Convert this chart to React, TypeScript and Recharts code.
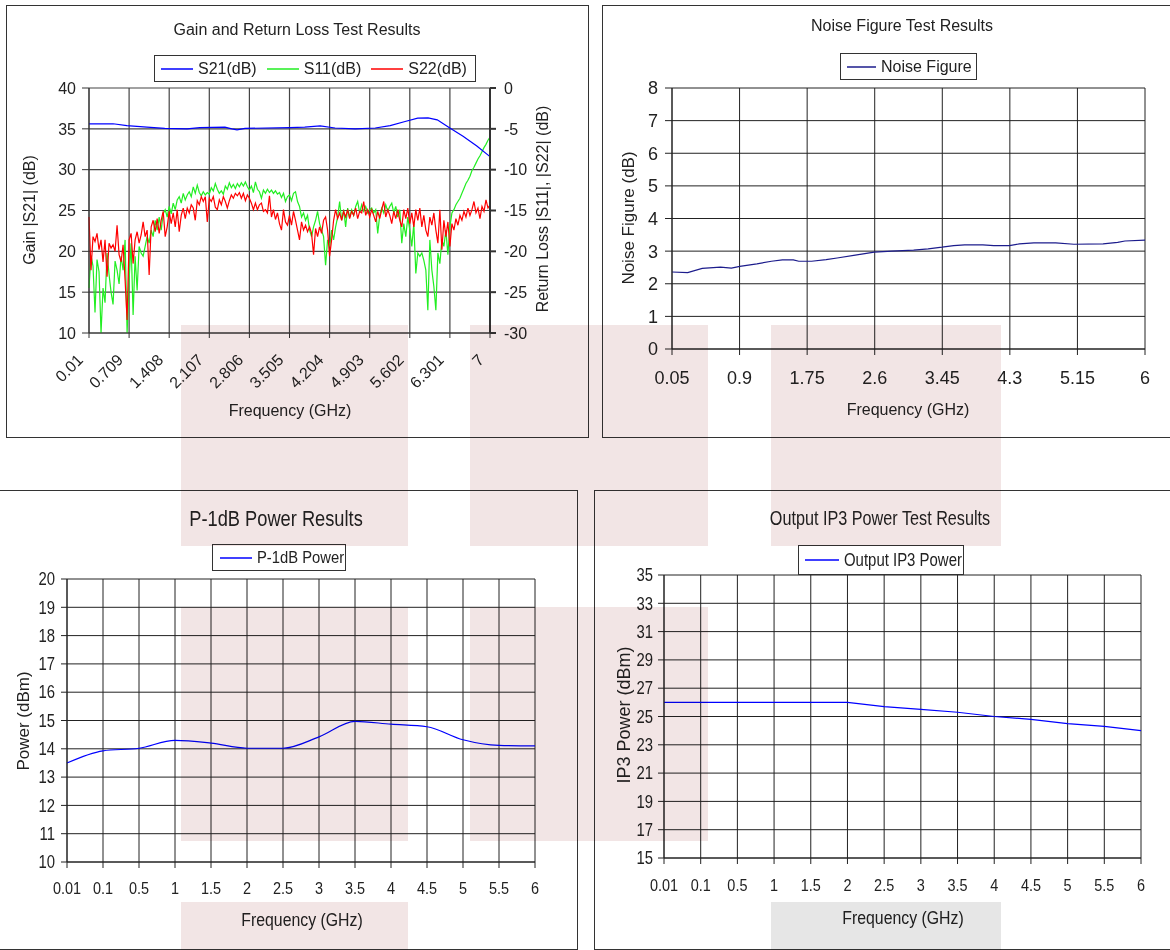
import React from "react";
import { LineChart, Line, XAxis, YAxis, CartesianGrid } from "recharts";

// ---- Gain / return loss sweep (0.01 .. 7 GHz, 201 points) ----
const SWEEP_START = 0.01;
const SWEEP_STEP = 0.03495;

const S11_DB = [
  -24.5, -20.5, -21.8, -27.5, -21.0, -22.5, -30.0, -24.5, -26.3, -20.2,
  -22.8, -25.0, -26.5, -21.2, -22.3, -24.0, -20.6, -22.3, -18.6, -30.0,
  -23.5, -19.0, -27.8, -20.6, -24.8, -19.4, -20.2, -20.6, -19.4, -18.2,
  -19.0, -17.4, -18.2, -16.2, -17.4, -15.8, -17.4, -15.4, -14.9, -15.8,
  -14.5, -15.4, -14.1, -14.9, -13.7, -13.3, -14.1, -12.9, -13.7, -13.1,
  -12.7, -13.3, -12.1, -12.9, -11.9, -12.8, -13.2, -12.7, -13.1, -12.8,
  -13.0, -12.2, -12.6, -11.7, -12.4, -12.9, -12.6, -13.0, -12.0, -12.4,
  -11.6, -12.2, -11.8, -12.3, -11.7, -12.1, -11.6, -12.0, -11.5, -12.1,
  -12.5, -12.0, -12.8, -11.5, -12.4, -12.7, -13.5, -12.5, -12.9, -12.4,
  -12.8, -12.5, -12.9, -12.6, -13.0, -12.8, -13.4, -12.9, -13.9, -13.3,
  -13.1, -13.8, -12.9, -12.7, -13.9, -14.5, -15.8, -15.3, -16.2, -15.6,
  -17.4, -18.2, -17.0, -16.2, -15.1, -16.6, -17.4, -18.2, -21.7, -18.6,
  -19.4, -17.4, -18.6, -17.0, -15.8, -13.9, -16.2, -14.9, -17.0, -14.7,
  -15.8, -14.9, -15.6, -14.5, -13.9, -15.3, -14.3, -15.1, -14.5, -15.3,
  -14.9, -14.7, -15.3, -14.9, -17.8, -15.6, -14.7, -15.3, -14.3, -15.1,
  -14.5, -14.1, -15.3, -14.5, -15.8, -14.9, -19.0, -16.6, -18.2, -15.8,
  -17.4, -19.4, -16.6, -22.7, -20.2, -20.6, -20.2, -21.1, -22.3, -27.2,
  -18.6, -22.3, -24.3, -27.2, -20.2, -21.5, -18.6, -19.4, -17.4, -20.4,
  -17.0, -15.3, -14.9, -14.3, -13.9, -13.5, -12.9, -12.3, -11.7, -11.3,
  -10.8, -10.1, -9.7, -9.2, -8.7, -8.3, -7.8, -7.3, -6.9, -6.4, -6.0,
];

const S22_DB = [
  -15.8, -22.3, -18.2, -18.8, -17.8, -19.8, -18.6, -21.3, -18.6, -23.1,
  -19.0, -19.6, -19.2, -20.0, -16.8, -20.4, -21.3, -19.2, -23.5, -28.4,
  -18.6, -17.8, -21.5, -18.6, -17.6, -19.0, -18.0, -16.4, -18.2, -17.4,
  -22.9, -17.0, -16.2, -17.6, -16.0, -17.8, -16.2, -15.1, -18.2, -17.0,
  -15.1, -16.6, -15.3, -17.0, -14.9, -17.6, -15.6, -14.7, -16.0, -14.7,
  -15.3, -14.3, -14.7, -16.2, -13.8, -14.3, -13.3, -13.9, -13.3, -16.4,
  -13.5, -13.9, -13.3, -14.6, -14.9, -13.7, -14.3, -13.3, -13.9, -14.7,
  -13.8, -13.1, -13.5, -12.9, -13.2, -12.8, -13.5, -12.9, -13.8, -13.1,
  -13.5, -14.1, -14.9, -14.1, -14.9, -14.3, -14.1, -15.1, -14.9, -15.3,
  -13.2, -15.8, -14.9, -16.1, -15.3, -16.6, -17.4, -14.9, -16.4, -16.8,
  -15.6, -16.8, -15.1, -16.2, -17.4, -18.6, -16.4, -17.4, -16.8, -17.6,
  -17.0, -17.8, -20.4, -17.2, -18.2, -17.0, -17.8, -16.2, -15.8, -17.4,
  -20.6, -18.6, -16.2, -14.9, -16.0, -15.3, -16.2, -15.1, -15.8, -14.9,
  -16.0, -15.1, -15.6, -14.7, -16.0, -15.1, -15.3, -13.9, -15.6, -14.9,
  -15.8, -14.9, -15.6, -16.4, -15.1, -16.0, -14.9, -13.9, -15.8, -14.9,
  -15.6, -16.6, -15.1, -16.0, -14.9, -16.2, -17.0, -14.9, -16.0, -14.7,
  -16.6, -15.3, -17.0, -14.9, -16.2, -14.7, -17.0, -15.6, -17.4, -18.2,
  -15.8, -16.8, -15.3, -17.4, -19.0, -14.9, -19.8, -16.2, -18.2, -16.4,
  -19.4, -16.6, -17.4, -16.0, -16.8, -15.6, -16.2, -15.1, -15.8, -14.7,
  -15.6, -14.9, -13.9, -15.3, -14.7, -16.0, -14.5, -15.1, -13.7, -14.7, -14.3,
];

const S21_FREQ = [
  0.01, 0.43, 0.67, 1.02, 1.33, 1.72, 1.94, 2.38, 2.5, 2.59, 2.73, 3.51, 3.77,
  4.04, 4.3, 4.65, 5.0, 5.26, 5.52, 5.74, 5.92, 6.08, 6.3, 6.53, 6.77, 7.0,
];
const S21_DB = [
  35.6, 35.62, 35.4, 35.2, 35.05, 35.0, 35.15, 35.2, 35.0, 34.88, 35.05, 35.15, 35.2,
  35.35, 35.1, 35.0, 35.1, 35.4, 35.9, 36.3, 36.35, 36.1, 35.1, 34.1, 32.9, 31.6,
];

const GAIN_X_TICKS = [0.01, 0.709, 1.408, 2.107, 2.806, 3.505, 4.204, 4.903, 5.602, 6.301, 7];
const GAIN_Y_TICKS = [10, 15, 20, 25, 30, 35, 40];
const RL_Y_TICKS = [-30, -25, -20, -15, -10, -5, 0];

// ---- Noise figure ----
const NF_FREQ = [
  0.05, 0.247, 0.43, 0.66, 0.797, 0.903, 1.118, 1.301, 1.439, 1.576, 1.645, 1.806,
  1.989, 2.127, 2.356, 2.594, 2.814, 3.089, 3.272, 3.447, 3.593, 3.731, 3.96, 4.098,
  4.295, 4.419, 4.602, 4.877, 5.106, 5.473, 5.656, 5.748, 6.0,
];
const NF_DB = [
  2.36, 2.34, 2.47, 2.51, 2.48, 2.53, 2.61, 2.69, 2.73, 2.73, 2.69, 2.69,
  2.74, 2.79, 2.88, 2.97, 3.0, 3.03, 3.07, 3.12, 3.17, 3.19, 3.19, 3.17,
  3.17, 3.22, 3.25, 3.25, 3.21, 3.22, 3.27, 3.31, 3.34,
];
const NF_X_TICKS = [0.05, 0.9, 1.75, 2.6, 3.45, 4.3, 5.15, 6];
const NF_Y_TICKS = [0, 1, 2, 3, 4, 5, 6, 7, 8];

// ---- P-1dB and OIP3 ----
const POWER_FREQS = ["0.01", "0.1", "0.5", "1", "1.5", "2", "2.5", "3", "3.5", "4", "4.5", "5", "5.5", "6"];
const P1DB_DBM = [13.5, 13.93, 14.02, 14.3, 14.2, 14.02, 14.02, 14.42, 14.97, 14.87, 14.78, 14.32, 14.12, 14.1];
const OIP3_DBM = [26, 26, 26, 26, 26, 26, 25.7, 25.5, 25.3, 25.0, 24.8, 24.5, 24.3, 24.0];
const P1DB_Y_TICKS = [10, 11, 12, 13, 14, 15, 16, 17, 18, 19, 20];
const OIP3_Y_TICKS = [15, 17, 19, 21, 23, 25, 27, 29, 31, 33, 35];

const sweepData = S11_DB.map((v, i) => ({
  f: +(SWEEP_START + i * SWEEP_STEP).toFixed(4),
  s11: v,
  s22: S22_DB[i],
}));
const s21Data = S21_FREQ.map((f, i) => ({ f, s21: S21_DB[i] }));
const nfData = NF_FREQ.map((f, i) => ({ f, nf: NF_DB[i] }));
const powerData = POWER_FREQS.map((f, i) => ({ f, p1db: P1DB_DBM[i], oip3: OIP3_DBM[i] }));

const REG = '"Liberation Sans", Arial, sans-serif';
const INK = "#222";
const GRID = "#444";
const NARROW = 0.85; // the lower two charts use a condensed face

// pale marks sitting on top of the scanned page
const PATCHES = [
  { x: 181, y: 325, w: 227, h: 221, c: "#f2e5e5" },
  { x: 470, y: 325, w: 238, h: 221, c: "#f2e5e5" },
  { x: 771, y: 325, w: 230, h: 221, c: "#f2e5e5" },
  { x: 181, y: 607, w: 227, h: 234, c: "#f2e5e5" },
  { x: 470, y: 607, w: 238, h: 234, c: "#f2e5e5" },
  { x: 181, y: 902, w: 227, h: 48, c: "#f2e5e5" },
  { x: 771, y: 902, w: 230, h: 48, c: "#e6e6e6" },
];

function Txt({ x, y, size, sx = 1, rotate = 0, children }: any) {
  return (
    <div
      style={{
        position: "absolute",
        left: x,
        top: y,
        transform: `translate(-50%, -50%) rotate(${rotate}deg) scaleX(${sx})`,
        fontSize: size,
        fontFamily: REG,
        color: INK,
        whiteSpace: "nowrap",
        lineHeight: 1,
      }}
    >
      {children}
    </div>
  );
}

function LegendBox({ x, y, w, h, items, size, sx = 1, lineW = 32, pad = 6, gap = 10 }: any) {
  return (
    <div
      style={{
        position: "absolute",
        left: x,
        top: y,
        width: w,
        height: h,
        boxSizing: "border-box",
        border: "1.5px solid #333",
        background: "#fff",
        display: "flex",
        alignItems: "center",
        paddingLeft: pad,
        fontFamily: REG,
        fontSize: size,
        color: INK,
        whiteSpace: "nowrap",
      }}
    >
      {items.map((it: any, i: number) => (
        <div key={it.name} style={{ display: "flex", alignItems: "center", marginLeft: i ? gap : 0 }}>
          <svg width={lineW} height={4} style={{ marginRight: 5, display: "block" }}>
            <line x1={0} y1={2} x2={lineW} y2={2} stroke={it.color} strokeWidth={1.5} />
          </svg>
          <span style={{ display: "inline-block", transform: `scaleX(${sx})`, transformOrigin: "left center" }}>
            {it.name}
          </span>
        </div>
      ))}
    </div>
  );
}

function Panel({ x, y, w, h, children }: any) {
  return (
    <div style={{ position: "absolute", left: x, top: y, width: w, height: h }}>
      {children}
      <div
        style={{
          position: "absolute",
          left: 0,
          top: 0,
          width: w,
          height: h,
          boxSizing: "border-box",
          border: "1.5px solid #333",
          pointerEvents: "none",
        }}
      />
    </div>
  );
}

function SlantTick(props: any) {
  const { x, y, payload } = props;
  const tx = x - 5;
  const ty = y + 21;
  return (
    <text
      x={tx}
      y={ty}
      transform={`rotate(-45 ${tx} ${ty})`}
      textAnchor="end"
      fontSize={16}
      fontFamily={REG}
      fill={INK}
    >
      {payload.value}
    </text>
  );
}

function NarrowXTick(props: any) {
  const { x, y, payload } = props;
  return (
    <g transform={`translate(${x},${y}) scale(${NARROW},1)`}>
      <text x={0} y={0} dy="0.71em" textAnchor="middle" fontSize={17} fontFamily={REG} fill={INK}>
        {payload.value}
      </text>
    </g>
  );
}

function NarrowYTick(props: any) {
  const { x, y, payload } = props;
  return (
    <g transform={`translate(${x},${y}) scale(${NARROW},1)`}>
      <text x={0} y={0} dy="0.355em" textAnchor="end" fontSize={17.5} fontFamily={REG} fill={INK}>
        {payload.value}
      </text>
    </g>
  );
}

function GainChart() {
  return (
    <Panel x={6} y={5} w={583} h={433}>
      <LineChart
        width={583}
        height={433}
        data={sweepData}
        margin={{ top: 83, right: 39, bottom: 45, left: 23 }}
        style={{ position: "absolute", left: 0, top: 0 }}
      >
        <CartesianGrid yAxisId="gain" stroke={GRID} strokeWidth={1.2} />
        <XAxis
          dataKey="f"
          type="number"
          domain={[0.01, 7]}
          ticks={GAIN_X_TICKS}
          interval={0}
          height={60}
          tickSize={5}
          tickMargin={2}
          stroke="#333"
          tick={<SlantTick />}
        />
        <YAxis
          yAxisId="gain"
          domain={[10, 40]}
          ticks={GAIN_Y_TICKS}
          interval={0}
          width={60}
          tickSize={7}
          tickMargin={6}
          stroke="#333"
          tick={{ fontSize: 16, fill: INK, fontFamily: REG }}
        />
        <YAxis
          yAxisId="rl"
          orientation="right"
          domain={[-30, 0]}
          ticks={RL_Y_TICKS}
          interval={0}
          width={60}
          tickSize={6}
          tickMargin={8}
          stroke="#333"
          strokeWidth={2}
          tick={{ fontSize: 16, fill: INK, fontFamily: REG }}
        />
        <Line yAxisId="rl" dataKey="s11" stroke="#22ee22" strokeWidth={1.2} dot={false} activeDot={false} isAnimationActive={false} />
        <Line yAxisId="rl" dataKey="s22" stroke="#ff0000" strokeWidth={1.2} dot={false} activeDot={false} isAnimationActive={false} />
        <Line yAxisId="gain" data={s21Data} dataKey="s21" stroke="#0000ff" strokeWidth={1.2} dot={false} activeDot={false} isAnimationActive={false} />
      </LineChart>
      <Txt x={291} y={25} size={16}>Gain and Return Loss Test Results</Txt>
      <LegendBox
        x={148}
        y={50}
        w={322}
        h={27}
        size={16}
        items={[
          { name: "S21(dB)", color: "#0000ff" },
          { name: "S11(dB)", color: "#22ee22" },
          { name: "S22(dB)", color: "#ff0000" },
        ]}
      />
      <Txt x={24} y={205} size={16} rotate={-90}>Gain |S21| (dB)</Txt>
      <Txt x={537} y={204} size={16} rotate={-90}>Return Loss |S11|, |S22| (dB)</Txt>
      <Txt x={284} y={406} size={16}>Frequency (GHz)</Txt>
    </Panel>
  );
}

function NoiseChart() {
  return (
    <Panel x={602} y={5} w={570} h={433}>
      <LineChart
        width={570}
        height={433}
        data={nfData}
        margin={{ top: 83, right: 27, bottom: 49, left: 20 }}
        style={{ position: "absolute", left: 0, top: 0 }}
      >
        <CartesianGrid stroke="#222" />
        <XAxis
          dataKey="f"
          type="number"
          domain={[0.05, 6]}
          ticks={NF_X_TICKS}
          interval={0}
          height={40}
          tickSize={6}
          tickMargin={16}
          stroke="#222"
          tick={{ fontSize: 18, fill: INK, fontFamily: REG }}
        />
        <YAxis
          domain={[0, 8]}
          ticks={NF_Y_TICKS}
          interval={0}
          width={50}
          tickSize={7}
          tickMargin={7}
          stroke="#222"
          tick={{ fontSize: 18, fill: INK, fontFamily: REG }}
        />
        <Line dataKey="nf" stroke="#1c1c8c" strokeWidth={1.2} dot={false} activeDot={false} isAnimationActive={false} />
      </LineChart>
      <Txt x={300} y={21} size={16}>Noise Figure Test Results</Txt>
      <LegendBox x={238} y={48} w={137} h={27} size={16} lineW={29} items={[{ name: "Noise Figure", color: "#1c1c8c" }]} />
      <Txt x={26} y={213} size={17} rotate={-90}>Noise Figure (dB)</Txt>
      <Txt x={306} y={405} size={16}>Frequency (GHz)</Txt>
    </Panel>
  );
}

function P1dbChart() {
  return (
    <Panel x={-2} y={490} w={580} h={460}>
      <LineChart
        width={580}
        height={460}
        data={powerData}
        margin={{ top: 89, right: 43, bottom: 48, left: 19 }}
        style={{ position: "absolute", left: 0, top: 0 }}
      >
        <CartesianGrid stroke="#222" />
        <XAxis
          dataKey="f"
          scale="point"
          interval={0}
          height={40}
          tickSize={6}
          tickMargin={14}
          stroke="#222"
          tick={<NarrowXTick />}
        />
        <YAxis
          domain={[10, 20]}
          ticks={P1DB_Y_TICKS}
          interval={0}
          width={50}
          tickSize={6}
          tickMargin={6}
          stroke="#222"
          tick={<NarrowYTick />}
        />
        <Line type="monotone" dataKey="p1db" stroke="#0000ff" strokeWidth={1.2} dot={false} activeDot={false} isAnimationActive={false} />
      </LineChart>
      <Txt x={278} y={29} size={22} sx={0.83}>P-1dB Power Results</Txt>
      <LegendBox x={214} y={54} w={134} h={27} size={17} sx={0.87} pad={7} items={[{ name: "P-1dB Power", color: "#0000ff" }]} />
      <Txt x={25} y={231} size={17} rotate={-90}>Power (dBm)</Txt>
      <Txt x={304} y={430} size={18} sx={0.88}>Frequency (GHz)</Txt>
    </Panel>
  );
}

function Ip3Chart() {
  return (
    <Panel x={594} y={490} w={578} h={460}>
      <LineChart
        width={578}
        height={460}
        data={powerData}
        margin={{ top: 85, right: 31, bottom: 52, left: 20 }}
        style={{ position: "absolute", left: 0, top: 0 }}
      >
        <CartesianGrid stroke="#222" />
        <XAxis
          dataKey="f"
          scale="point"
          interval={0}
          height={40}
          tickSize={6}
          tickMargin={15}
          stroke="#222"
          tick={<NarrowXTick />}
        />
        <YAxis
          domain={[15, 35]}
          ticks={OIP3_Y_TICKS}
          interval={0}
          width={50}
          tickSize={6}
          tickMargin={5}
          stroke="#222"
          tick={<NarrowYTick />}
        />
        <Line type="linear" dataKey="oip3" stroke="#0000ff" strokeWidth={1.2} dot={false} activeDot={false} isAnimationActive={false} />
      </LineChart>
      <Txt x={286} y={28} size={20} sx={0.81}>Output IP3 Power Test Results</Txt>
      <LegendBox x={204} y={55} w={166} h={30} size={18} sx={0.83} lineW={34} items={[{ name: "Output IP3 Power", color: "#0000ff" }]} />
      <Txt x={30} y={225} size={18} rotate={-90}>IP3 Power (dBm)</Txt>
      <Txt x={309} y={428} size={18} sx={0.88}>Frequency (GHz)</Txt>
    </Panel>
  );
}

export default function App() {
  return (
    <div style={{ position: "relative", width: 1170, height: 950, overflow: "hidden", background: "#fff" }}>
      <style>{"body{margin:0}"}</style>
      <GainChart />
      <NoiseChart />
      <P1dbChart />
      <Ip3Chart />
      {PATCHES.map((p, i) => (
        <div
          key={i}
          style={{
            position: "absolute",
            left: p.x,
            top: p.y,
            width: p.w,
            height: p.h,
            background: p.c,
            mixBlendMode: "multiply",
            pointerEvents: "none",
          }}
        />
      ))}
    </div>
  );
}
